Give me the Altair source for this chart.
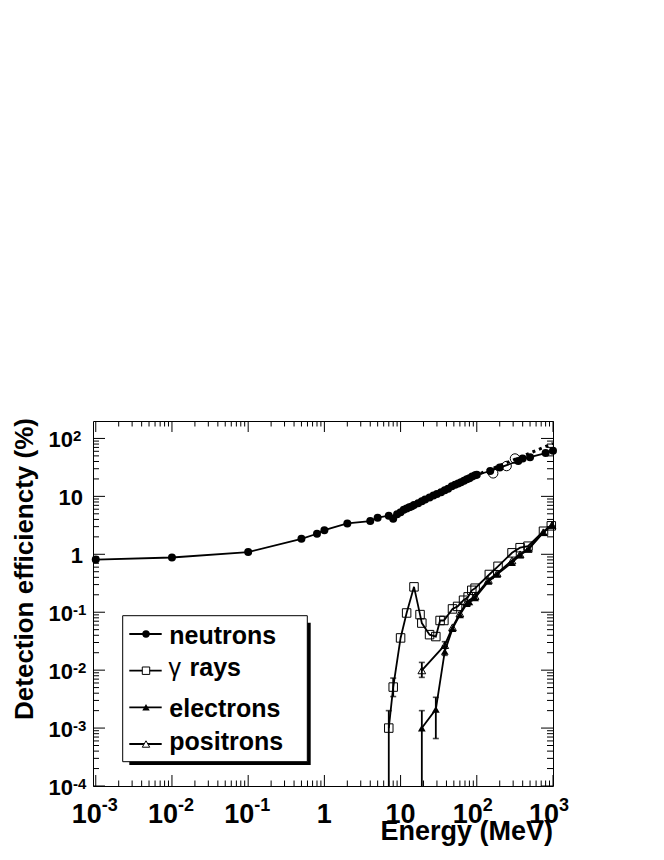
import altair as alt
import pandas as pd

# ---------------- data ----------------
neutron_E = [0.001, 0.01, 0.1, 0.5, 0.8, 1.0, 2.0, 4.0, 5.0, 7.0, 8.0, 9.0, 10, 11, 12, 13, 14, 15,
             17, 19, 21, 24, 27, 30, 34, 38, 42, 47, 52, 57, 62, 68, 74, 80, 87, 95, 100,
             150, 200, 350, 400, 500, 800, 1000]
neutron_eff = [0.81, 0.88, 1.09, 1.85, 2.26, 2.61, 3.41, 3.74, 4.28, 4.65, 4.10, 4.90, 5.30, 5.90,
               6.20, 6.50, 6.70, 7.10, 7.60, 8.20, 8.80, 9.60, 10.3, 11.0, 11.8, 12.7, 13.6, 14.9,
               15.9, 16.6, 17.5, 18.6, 19.7, 20.6, 22.0, 23.1, 23.6, 27.4, 31.4, 40.8, 45.0, 47.5,
               56.0, 61.0]

neutron2_E = [164, 246, 317]
neutron2_eff = [25.0, 33.4, 45.0]

sim_E = [8, 10, 20, 50, 100, 200, 500, 1000]
sim_eff = [4.4, 5.5, 8.6, 15.5, 23.5, 34.0, 56.0, 82.0]

gamma_E = [7, 8, 10, 12, 15, 18, 19, 24, 29, 33, 37, 48, 56, 67, 77, 86, 95, 146, 190, 290,
           370, 470, 750, 950]
gamma_eff = [0.001, 0.0051, 0.036, 0.097, 0.274, 0.091, 0.065, 0.041, 0.038, 0.072, 0.072, 0.114,
             0.126, 0.161, 0.184, 0.239, 0.26, 0.448, 0.62, 1.06, 1.30, 1.38, 2.50, 3.10]

electron_E = [19, 29, 38, 48, 60, 74, 80, 95, 142, 185, 290, 370, 475, 745, 970]
electron_eff = [0.001, 0.0021, 0.021, 0.052, 0.090, 0.140, 0.150, 0.177, 0.340, 0.450, 0.720,
                0.970, 1.21, 2.36, 3.20]

positron_E = [19, 38, 48, 60, 74, 95, 142, 185, 290, 370, 475, 745, 970]
positron_eff = [0.0099, 0.027, 0.055, 0.095, 0.150, 0.190, 0.360, 0.470, 0.780, 1.00, 1.25,
                2.40, 3.20]

# error bars (lower value 0 -> runs off the bottom of the log axis)
err_E = [7, 8, 19, 29, 19, 38, 38]
err_lo = [0.0, 0.0035, 0.0, 0.00066, 0.0075, 0.018, 0.024]
err_hi = [0.0020, 0.0073, 0.0020, 0.0034, 0.0136, 0.026, 0.031]

x_major = [0.001, 0.01, 0.1, 1, 10, 100, 1000]
x_base = ["10", "10", "10", "1", "10", "10", "10"]
x_exp = ["-3", "-2", "-1", "", "", "2", "3"]

y_major = [1e-4, 1e-3, 1e-2, 1e-1, 1, 10, 100]
y_base = ["10", "10", "10", "10", "1", "10", "10"]
y_exp = ["-4", "-3", "-2", "-1", "", "", "2"]

legend_labels = ["neutrons", "rays", "electrons", "positrons"]

# ---------------- layout ----------------
W, H = 460, 365
FONT = "Liberation Sans"
X_MIN, X_MAX = 0.00092, 1000
Y_MIN, Y_MAX = 1e-4, 200

xs = alt.Scale(type="log", domain=[X_MIN, X_MAX], nice=False, zero=False)
ys = alt.Scale(type="log", domain=[Y_MIN, Y_MAX], nice=False, zero=False, clamp=True)

x_minor = [m * 10.0 ** k for k in range(-4, 3) for m in range(2, 10) if X_MIN <= m * 10.0 ** k < X_MAX]
y_minor = [m * 10.0 ** k for k in range(-4, 3) for m in range(2, 10) if Y_MIN <= m * 10.0 ** k < Y_MAX]


def one():
    return alt.Data(values=[{"a": 1}])


def series(E, eff):
    return pd.DataFrame({"E": E, "eff": eff})


X = alt.X("E:Q", scale=xs, axis=None)
Y = alt.Y("eff:Q", scale=ys, axis=None)

layers = []

# ticks (inside frame, all four sides)
xmaj = pd.DataFrame({"v": x_major})
xmin = pd.DataFrame({"v": x_minor})
ymaj = pd.DataFrame({"v": y_major})
ymin = pd.DataFrame({"v": y_minor})
for df, ln in [(xmaj, 11), (xmin, 5.5)]:
    xv = alt.X("v:Q", scale=xs, axis=None)
    layers.append(alt.Chart(df).mark_rule(color="black", strokeWidth=1).encode(
        x=xv, y=alt.value(H), y2=alt.value(H - ln)))
    layers.append(alt.Chart(df).mark_rule(color="black", strokeWidth=1).encode(
        x=xv, y=alt.value(0), y2=alt.value(ln)))
for df, ln in [(ymaj, 12), (ymin, 6)]:
    yv = alt.Y("v:Q", scale=ys, axis=None)
    layers.append(alt.Chart(df).mark_rule(color="black", strokeWidth=1).encode(
        y=yv, x=alt.value(0), x2=alt.value(ln)))
    layers.append(alt.Chart(df).mark_rule(color="black", strokeWidth=1).encode(
        y=yv, x=alt.value(W), x2=alt.value(W - ln)))

# tick labels
xl = pd.DataFrame({"v": x_major, "b": x_base, "e": x_exp})
yl = pd.DataFrame({"v": y_major, "b": y_base, "e": y_exp})
xv = alt.X("v:Q", scale=xs, axis=None)
yv = alt.Y("v:Q", scale=ys, axis=None)
txt = dict(font=FONT, fontWeight="bold", baseline="alphabetic", color="black")

layers.append(alt.Chart(xl).transform_filter("datum.e == ''").mark_text(
    align="center", fontSize=27, **txt).encode(x=xv, y=alt.value(H + 37), text="b:N"))
layers.append(alt.Chart(xl).transform_filter("datum.e != ''").mark_text(
    align="right", dx=6, fontSize=27, **txt).encode(x=xv, y=alt.value(H + 37), text="b:N"))
layers.append(alt.Chart(xl).transform_filter("datum.e != ''").mark_text(
    align="left", dx=6, fontSize=18, **txt).encode(x=xv, y=alt.value(H + 25), text="e:N"))

layers.append(alt.Chart(yl).transform_filter("datum.e == ''").mark_text(
    align="right", dy=9, fontSize=22, **txt).encode(y=yv, x=alt.value(-10), text="b:N"))
layers.append(alt.Chart(yl).transform_filter("datum.e != ''").mark_text(
    align="right", dy=9, fontSize=22, **txt).encode(y=yv, x=alt.value(-20), text="b:N"))
layers.append(alt.Chart(yl).transform_filter("datum.e != ''").mark_text(
    align="left", dy=2.5, fontSize=15, **txt).encode(y=yv, x=alt.value(-20), text="e:N"))

# axis titles
layers.append(alt.Chart(one()).mark_text(align="right", fontSize=27, **txt).encode(
    x=alt.value(W), y=alt.value(H + 54), text=alt.value("Energy (MeV)")))
layers.append(alt.Chart(one()).mark_text(align="right", angle=270, fontSize=26, **txt).encode(
    x=alt.value(-60), y=alt.value(-3), text=alt.value("Detection efficiencty (%)")))

# data lines
LW = 1.8
layers.append(alt.Chart(series(sim_E, sim_eff)).mark_line(
    color="black", strokeWidth=3, strokeDash=[3, 4]).encode(x=X, y=Y))
for E, eff in [(neutron_E, neutron_eff), (gamma_E, gamma_eff),
               (electron_E, electron_eff), (positron_E, positron_eff)]:
    layers.append(alt.Chart(series(E, eff)).mark_line(color="black", strokeWidth=LW).encode(x=X, y=Y))

# error bars
err = pd.DataFrame({"E": err_E, "lo": [v if v > 0 else 1e-7 for v in err_lo], "hi": err_hi,
                    "haslo": [v > 0 for v in err_lo]})
layers.append(alt.Chart(err).mark_rule(color="black", strokeWidth=1.8).encode(
    x=X, y=alt.Y("lo:Q", scale=ys, axis=None), y2="hi:Q"))
layers.append(alt.Chart(err).mark_tick(orient="horizontal", size=6, thickness=1.6, color="black").encode(
    x=X, y=alt.Y("hi:Q", scale=ys, axis=None)))
layers.append(alt.Chart(err).transform_filter("datum.haslo").mark_tick(
    orient="horizontal", size=6, thickness=1.6, color="black").encode(
    x=X, y=alt.Y("lo:Q", scale=ys, axis=None)))

# markers
layers.append(alt.Chart(series(neutron_E, neutron_eff)).mark_point(
    shape="circle", filled=True, size=64, color="black", opacity=1).encode(x=X, y=Y))
layers.append(alt.Chart(series(neutron2_E, neutron2_eff)).mark_point(
    shape="circle", filled=False, size=90, color="black", strokeWidth=1, opacity=1).encode(x=X, y=Y))
layers.append(alt.Chart(series(gamma_E, gamma_eff)).mark_point(
    shape="square", filled=False, size=72, color="black", strokeWidth=1, opacity=1).encode(x=X, y=Y))
layers.append(alt.Chart(series(positron_E, positron_eff)).mark_point(
    shape="triangle-up", filled=False, size=60, color="black", strokeWidth=1, opacity=1).encode(x=X, y=Y))
layers.append(alt.Chart(series(electron_E, electron_eff)).mark_point(
    shape="triangle-up", filled=True, size=60, color="black", opacity=1).encode(x=X, y=Y))

# legend box with shadow
layers.append(alt.Chart(one()).mark_rect(color="black").encode(
    x=alt.value(36.3), x2=alt.value(217.7), y=alt.value(201.7), y2=alt.value(344)))
layers.append(alt.Chart(one()).mark_rect(fill="white", stroke="black", strokeWidth=1).encode(
    x=alt.value(29.7), x2=alt.value(214.3), y=alt.value(194.7), y2=alt.value(340.7)))

leg_y = [213, 249.7, 286.3, 323]
leg_shape = [("circle", True), ("square", False), ("triangle-up", True), ("triangle-up", False)]
leg_dy = [10, 5.5, 9.5, 5.5]
for i, lab in enumerate(legend_labels):
    yy = leg_y[i]
    layers.append(alt.Chart(one()).mark_rule(color="black", strokeWidth=LW).encode(
        x=alt.value(36.3), x2=alt.value(68.7), y=alt.value(yy)))
    shp, fil = leg_shape[i]
    layers.append(alt.Chart(one()).mark_point(
        shape=shp, filled=fil, size=55, color="black", strokeWidth=1, opacity=1,
        fill=("black" if fil else "white")).encode(x=alt.value(53), y=alt.value(yy)))
    if i == 1:
        layers.append(alt.Chart(one()).mark_text(
            align="left", font=FONT, fontSize=25, baseline="alphabetic", color="black").encode(
            x=alt.value(75.5), y=alt.value(yy + leg_dy[i]), text=alt.value("γ")))
        layers.append(alt.Chart(one()).mark_text(align="left", fontSize=25, **txt).encode(
            x=alt.value(96.5), y=alt.value(yy + leg_dy[i]), text=alt.value(lab)))
    else:
        layers.append(alt.Chart(one()).mark_text(align="left", fontSize=25, **txt).encode(
            x=alt.value(76.3), y=alt.value(yy + leg_dy[i]), text=alt.value(lab)))

chart = alt.layer(*layers).properties(
    width=W, height=H,
    autosize=alt.AutoSizeParams(type="none"),
    padding={"left": 85, "top": 413, "right": 40, "bottom": 60},
    background="white",
).configure_view(stroke="black", strokeWidth=1)

chart.save("out.html", embed_options={"renderer": "svg", "actions": False})
